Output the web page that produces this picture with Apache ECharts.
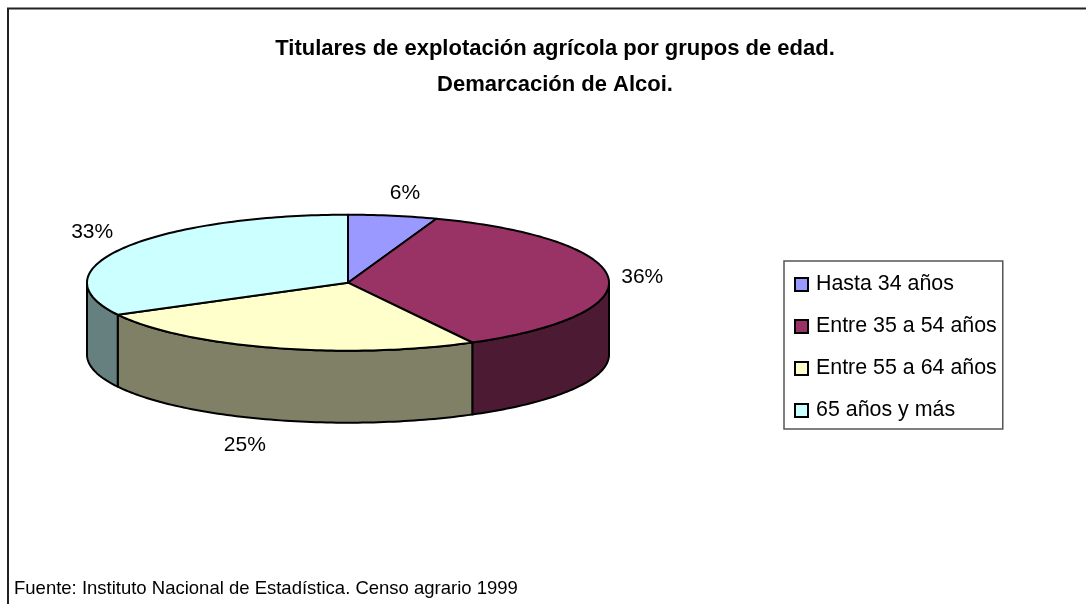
<!DOCTYPE html>
<html>
<head>
<meta charset="utf-8">
<style>html,body{margin:0;padding:0;background:#fff}#c{width:1086px;height:604px}</style>
<script src="https://cdn.jsdelivr.net/npm/echarts@6/dist/echarts.min.js"></script>
</head>
<body>
<div id="c"></div>
<script>
const categories = ['Hasta 34 años', 'Entre 35 a 54 años', 'Entre 55 a 64 años', '65 años y más'];
const values = [5.5, 36.6, 25.1, 32.8];
const labels = ['6%', '36%', '25%', '33%'];
const topColors = ['#9999FF', '#993366', '#FFFFCC', '#CCFFFF'];
const sideColors = ['#4C4C80', '#4D1A33', '#808066', '#668080'];
const titleText = 'Titulares de explotación agrícola por grupos de edad.\nDemarcación de Alcoi.';
const sourceText = 'Fuente: Instituto Nacional de Estadística. Censo agrario 1999';

const FONT = '"Liberation Sans", Arial, sans-serif';
const PIE = { cx: 348, cy: 282.7, rx: 261, ry: 68, depth: 72 };
const labelNudge = [[12, -23], [34, 0], [-28, 97], [-32, -16]];

const total = values.reduce((a, b) => a + b, 0);
const cumulative = values.reduce((acc, v) => (acc.push(acc[acc.length - 1] + v), acc), [0]);
const toAngle = v => v / total * 2 * Math.PI;
const pt = (t, dy) => [PIE.cx + PIE.rx * Math.sin(t), PIE.cy - PIE.ry * Math.cos(t) + (dy || 0)];
function arc(a, b, dy) {
  const n = Math.max(2, Math.ceil((b - a) / 0.02));
  const out = [];
  for (let i = 0; i <= n; i++) out.push(pt(a + (b - a) * i / n, dy));
  return out;
}

function renderSide(params, api) {
  const i = params.dataIndex;
  const a = Math.max(toAngle(cumulative[i]), Math.PI / 2);
  const b = Math.min(toAngle(cumulative[i] + api.value(0)), Math.PI * 1.5);
  if (b <= a) return { type: 'group', children: [] };
  const points = arc(a, b, 0).concat(arc(a, b, PIE.depth).reverse());
  return {
    type: 'polygon',
    shape: { points },
    style: { fill: sideColors[i], stroke: '#000', lineWidth: 2, lineJoin: 'round' }
  };
}

function renderTop(i) {
  return function (params, api) {
    const v = api.value(0);
    const a = toAngle(cumulative[i]);
    const b = toAngle(cumulative[i] + v);
    const points = [[PIE.cx, PIE.cy]].concat(arc(a, b, 0));
    const mid = (a + b) / 2;
    const anchor = pt(mid, 0);
    return {
      type: 'group',
      children: [
        {
          type: 'polygon',
          shape: { points },
          style: { fill: topColors[i], stroke: '#000', lineWidth: 2, lineJoin: 'round' }
        },
        {
          type: 'text',
          z2: 10,
          style: {
            x: anchor[0] + labelNudge[i][0],
            y: anchor[1] + labelNudge[i][1],
            text: labels[i],
            fill: '#000',
            font: '21px ' + FONT,
            align: 'center',
            verticalAlign: 'middle'
          }
        }
      ]
    };
  };
}

const chart = echarts.init(document.getElementById('c'), null, { renderer: 'canvas' });
chart.setOption({
  animation: false,
  backgroundColor: '#fff',
  title: [
    {
      text: titleText,
      left: 550, top: 26, textAlign: 'center',
      textStyle: { fontFamily: FONT, fontSize: 22, fontWeight: 'bold', color: '#000', lineHeight: 36 }
    },
    {
      text: sourceText,
      left: 14, top: 579, padding: 0,
      textStyle: { fontFamily: FONT, fontSize: 18.5, fontWeight: 'normal', color: '#000' }
    }
  ],
  legend: {
    data: categories,
    orient: 'vertical',
    left: 784, top: 261,
    padding: [13, 6, 8, 10],
    itemWidth: 13, itemHeight: 13, itemGap: 21,
    icon: 'rect',
    borderColor: '#555', borderWidth: 1.5,
    selectedMode: false,
    itemStyle: { borderColor: '#000', borderWidth: 2 },
    textStyle: { fontFamily: FONT, fontSize: 21.4, color: '#000', lineHeight: 14, padding: [0, 0, 0, 3] }
  },
  graphic: [
    { type: 'polyline', silent: true, shape: { points: [[8, 604], [8, 8.5], [1086, 8.5]] }, style: { fill: null, stroke: '#222', lineWidth: 2 } }
  ],
  series: [
    { type: 'custom', name: 'sides', coordinateSystem: 'none', silent: true, renderItem: renderSide, data: values.map(v => [v]), z: 1 }
  ].concat(categories.map((name, i) => ({
    type: 'custom', name, coordinateSystem: 'none', silent: true,
    renderItem: renderTop(i), data: [[values[i]]], z: 2,
    itemStyle: { color: topColors[i] }
  })))
});
</script>
</body>
</html>
